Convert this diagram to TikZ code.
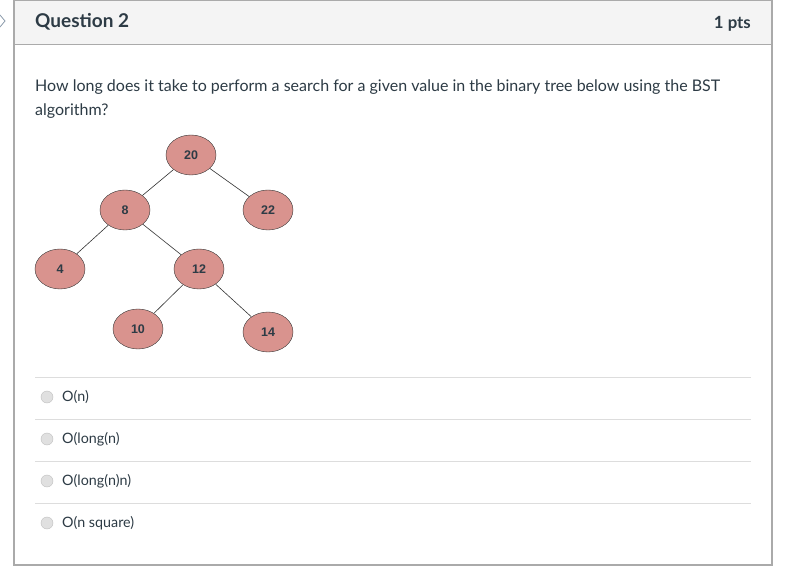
\documentclass[tikz,border=0pt]{standalone}
\usepackage{fontspec}
\setmainfont{Lato}
\newfontfamily\nodefont{Liberation Sans}
\usetikzlibrary{shapes.geometric}
\definecolor{txt}{HTML}{2D3B45}
\definecolor{frame}{HTML}{AAAAAA}
\definecolor{headbg}{HTML}{F4F4F4}
\definecolor{rule}{HTML}{DDDDDD}
\definecolor{keyfill}{HTML}{D9938E}
\definecolor{chev}{HTML}{8A9AAA}
\tikzset{
  key/.style={ellipse, draw=black!80, fill=keyfill, minimum width=50pt, minimum height=40pt,
    inner sep=0pt, font=\nodefont\fontsize{12.5}{12.5}\selectfont\bfseries, text=txt},
  branch/.style={black!80, line width=0.6pt},
  radio/.style={circle, draw=black!25, fill=black!12, minimum size=12pt, inner sep=0pt},
  answer/.style={anchor=west, font=\fontsize{14.3}{15}\selectfont, text=txt, inner sep=0pt}
}
\begin{document}
\begin{tikzpicture}[x=1pt, y=-1pt]
    \useasboundingbox (0,0) rectangle (798,585);
    \fill[white] (0,0) rectangle (798,585);

    % Header
    \fill[headbg] (14,0) rectangle (772,45);
    \draw[frame, line width=1.2pt] (14,0) rectangle (772,565);
    \draw[frame, line width=1pt] (14,45) -- (772,45);
    \draw[chev, line width=0.8pt] (0,15) -- (5,21) -- (0,27);
    \node (title) [anchor=base west, inner sep=0pt, text=txt, font=\fontsize{19}{20}\selectfont\bfseries] at (35,28) {Question 2};
    \node (pts) [anchor=base east, inner sep=0pt, text=txt, font=\fontsize{16.8}{18}\selectfont\bfseries] at (751,29) {1 pts};

    % Question
    \node (q1) [anchor=base west, inner sep=0pt, text=txt, font=\fontsize{16}{17}\selectfont] at (35,92) {How long does it take to perform a search for a given value in the binary tree below using the BST};
    \node (q2) [anchor=base west, inner sep=0pt, text=txt, font=\fontsize{16}{17}\selectfont] at (35,116) {algorithm?};

    % Tree
    \node[key] (n20) at (191,155) {20};
    \node[key] (n8) at (125,210) {8};
    \node[key] (n22) at (268,210) {22};
    \node[key] (n4) at (60,269) {4};
    \node[key] (n12) at (199,269) {12};
    \node[key] (n10) at (138,329) {10};
    \node[key] (n14) at (268,332) {14};

    \draw[branch] (n20) -- (n8);
    \draw[branch] (n20) -- (n22);
    \draw[branch] (n8) -- (n4);
    \draw[branch] (n8) -- (n12);
    \draw[branch] (n12) -- (n10);
    \draw[branch] (n12) -- (n14);

    % Answers
    \foreach \y/\name/\ans in {397/a/O(n), 439/b/O(long(n), 481/c/O(long(n)n), 523/d/O(n square)} {
        \draw[rule, line width=1pt] (35,\y-20) -- (751,\y-20);
        \node[radio] (r\name) at (47,\y) {};
        \node[answer] (t\name) at (62,\y) {\ans};
    }

\end{tikzpicture}
\end{document}
